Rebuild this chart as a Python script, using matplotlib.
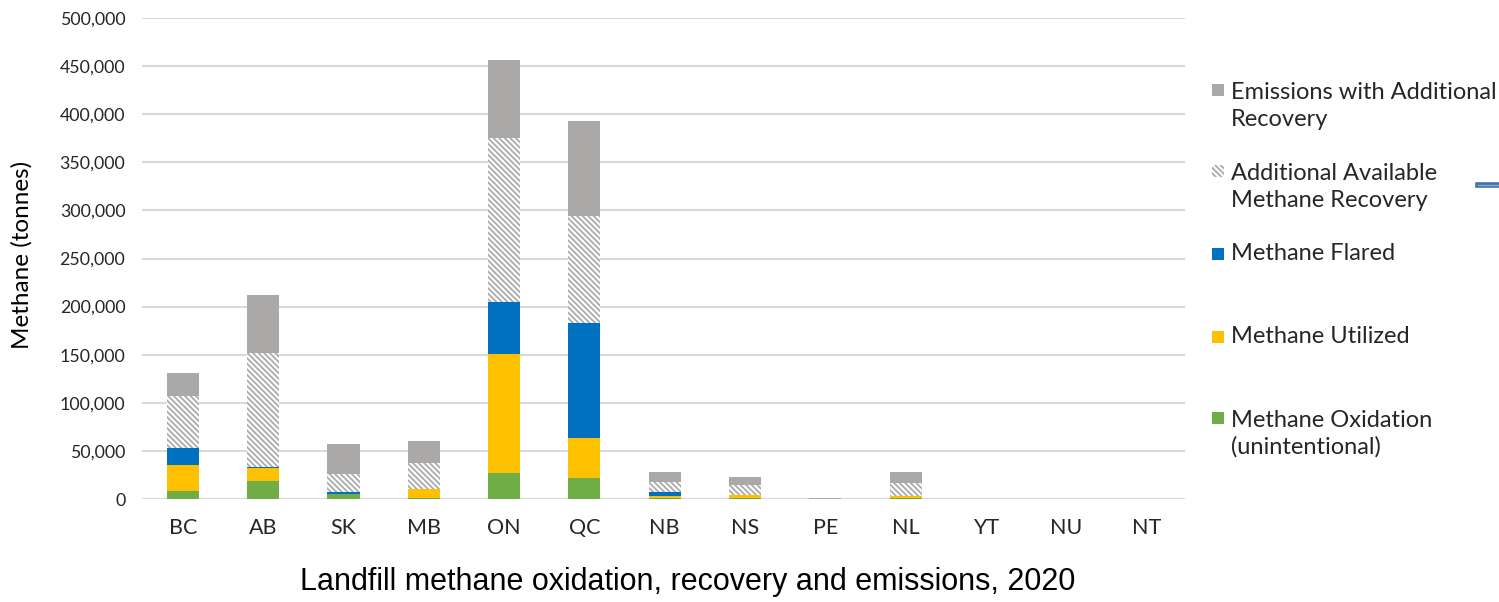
import numpy as np
import matplotlib.pyplot as plt
from matplotlib.patches import Rectangle

plt.rcParams['hatch.linewidth'] = 1.3

provinces = ['BC', 'AB', 'SK', 'MB', 'ON', 'QC', 'NB', 'NS', 'PE', 'NL', 'YT', 'NU', 'NT']

# tonnes of methane, stacked bottom to top
oxidation = [8000, 18700, 4900, 1000, 26700, 22100, 1000, 1000, 0, 1000, 0, 0, 0]
utilized = [27300, 13200, 300, 9000, 123700, 41600, 2000, 3500, 0, 1800, 0, 0, 0]
flared = [18000, 1100, 2400, 0, 54700, 119600, 4000, 0, 0, 0, 0, 0, 0]
additional = [53700, 119000, 18100, 27800, 169900, 111200, 11000, 10000, 0, 14200, 0, 0, 0]
emissions = [23700, 59700, 31500, 22500, 81300, 98400, 10400, 8700, 1500, 10700, 300, 200, 200]

series = [
    ('Methane Oxidation\n(unintentional)', oxidation, '#70AD47', None),
    ('Methane Utilized', utilized, '#FFC000', None),
    ('Methane Flared', flared, '#0070C0', None),
    ('Additional Available\nMethane Recovery', additional, 'white', '\\' * 6),
    ('Emissions with Additional\nRecovery', emissions, '#ABA8A8', None),
]

fig = plt.figure(figsize=(14.99, 6.02), dpi=100)
ax = fig.add_axes([142 / 1499, 1 - 499 / 602, (1185 - 142) / 1499, 481 / 602])

x = np.arange(len(provinces))
bottom = np.zeros(len(provinces))
for label, vals, color, hatch in series:
    vals = np.array(vals, dtype=float)
    if hatch:
        ax.bar(x, vals, 0.4, bottom=bottom, color='white', edgecolor='#ABABAB',
               hatch=hatch, linewidth=0, zorder=3)
    else:
        ax.bar(x, vals, 0.4, bottom=bottom, color=color, linewidth=0, zorder=3)
    bottom += vals

ax.set_xlim(-0.51, len(provinces) - 0.52)
ax.set_ylim(0, 500000)
ax.set_yticks(np.arange(0, 500001, 50000))
ax.set_yticklabels([f'{v:,}' for v in range(0, 500001, 50000)], fontsize=12.8,
                   family='Lato', color='#262626')
ax.set_xticks(x)
ax.set_xticklabels(provinces, fontsize=15.5, family='Lato', color='#262626')
ax.tick_params(length=0)
ax.tick_params(axis='y', pad=12)
ax.tick_params(axis='x', pad=14)
ax.grid(axis='y', color='#D9D9D9', linewidth=1.5, zorder=0)
for s in ax.spines.values():
    s.set_visible(False)

fig.text(22 / 1499, 1 - 255 / 602, 'Methane (tonnes)', rotation=90, fontsize=17.5,
         family='Lato', ha='center', va='center')
fig.text(688 / 1499, 1 - 582 / 602, 'Landfill methane oxidation, recovery and emissions, 2020',
         fontsize=22, family='Liberation Sans', ha='center', va='center')

# legend, drawn entry by entry (top to bottom)
legend_rows = [
    (series[4], 106, 90),
    (series[3], 187, 171),
    (series[2], 254, 254),
    (series[1], 337, 337),
    (series[0], 434, 418),
]
for (label, vals, color, hatch), yc, ysq in legend_rows:
    sq = Rectangle((1212 / 1499, 1 - (ysq + 6) / 602), 12 / 1499, 12 / 602,
                   transform=fig.transFigure, facecolor=color,
                   edgecolor='#ABABAB' if hatch else 'none', hatch=hatch,
                   linewidth=0)
    fig.patches.append(sq)
    fig.text(1231 / 1499, 1 - yc / 602, label, fontsize=17, family='Lato',
             ha='left', va='center', linespacing=1.3, color='#262626')

# stray connector mark at right edge
fig.add_artist(plt.Line2D([1478 / 1499, 1499 / 1499], [1 - 185 / 602] * 2,
                          transform=fig.transFigure, color='#3F6FAE', linewidth=4))
fig.add_artist(plt.Line2D([1478 / 1499, 1499 / 1499], [1 - 185 / 602] * 2,
                          transform=fig.transFigure, color='#8FAAD0', linewidth=1))

fig.savefig('out.png', dpi=100)
